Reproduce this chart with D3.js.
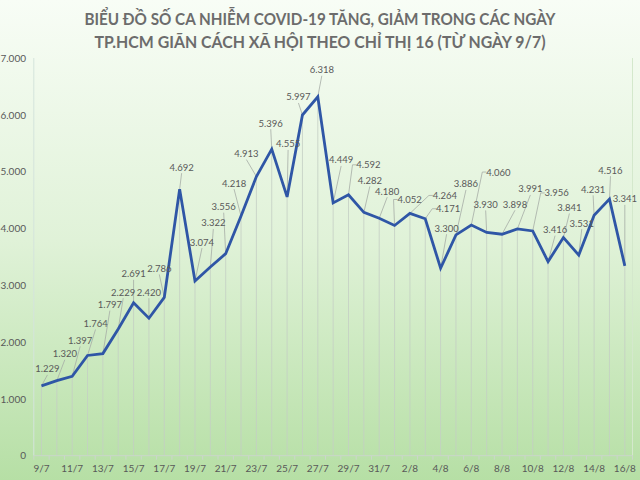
<!DOCTYPE html>
<html>
<head>
<meta charset="utf-8">
<script src="https://cdn.jsdelivr.net/npm/d3@7/dist/d3.min.js"></script>
<style>
  html, body { margin: 0; padding: 0; background: #fff; }
  svg { display: block; }
</style>
</head>
<body>
<svg id="chart" width="640" height="480"></svg>
<script>
// ---- Data ----
const dates = ["9/7","10/7","11/7","12/7","13/7","14/7","15/7","16/7","17/7","18/7","19/7","20/7","21/7","22/7","23/7","24/7","25/7","26/7","27/7","28/7","29/7","30/7","31/7","1/8","2/8","3/8","4/8","5/8","6/8","7/8","8/8","9/8","10/8","11/8","12/8","13/8","14/8","15/8","16/8"];
const cases = [1229,1320,1397,1764,1797,2229,2691,2420,2786,4692,3074,3322,3556,4218,4913,5396,4555,5997,6318,4449,4592,4282,4180,4052,4264,4171,3300,3886,4060,3930,3898,3991,3956,3416,3841,3531,4231,4516,3341];
const xTickLabels = ["9/7","11/7","13/7","15/7","17/7","19/7","21/7","23/7","25/7","27/7","29/7","31/7","2/8","4/8","6/8","8/8","10/8","12/8","14/8","16/8"];
const yTicks = [0,1000,2000,3000,4000,5000,6000,7000];
const titleLines = ["BIỂU ĐỒ SỐ CA NHIỄM COVID-19 TĂNG, GIẢM TRONG CÁC NGÀY","TP.HCM GIÃN CÁCH XÃ HỘI THEO CHỈ THỊ 16 (TỪ NGÀY 9/7)"];

// label placement offsets (relative to each point)
const labelDx = [6,8,8,8,7,5,0,0,-5,2,7,3,-2,-7,-10,-1,1,-4,4,8,20,6,8,15,35,23,6,10,27,-1,13,13,24,7,6,3,-1,1,0];
const labelDy = [-17,-27,-36,-32,-49,-37,-29,-26,-29,-22,-39,-44,-47,-33,-23,-26,-53,-18,-27,-43,-30,-32,-27,-26,-18,-10,-40,-51,-53,-28,-30,-40,-38,-32,-30,-32,-26,-29,-67];

// ---- Setup ----
const W = 640, H = 480;
const svg = d3.select("#chart");
const defs = svg.append("defs");
const grad = defs.append("linearGradient").attr("id","bg").attr("x1",0).attr("y1",0).attr("x2",0).attr("y2",1);
grad.append("stop").attr("offset","0%").attr("stop-color","#f8fdf6");
grad.append("stop").attr("offset","50%").attr("stop-color","#e0f2d8");
grad.append("stop").attr("offset","100%").attr("stop-color","#b6dfa5");
svg.append("rect").attr("width",W).attr("height",H).attr("fill","url(#bg)");

const vn = d3.formatLocale({decimal:",", thousands:".", grouping:[3], currency:["","đ"]});
const fmt = vn.format(",");

const plotL = 33.8, plotR = 632.5, plotT = 58, plotB = 455.7;
const x = d3.scaleBand().domain(dates).range([plotL, plotR]).padding(0);
const cx = d => x(d) + x.bandwidth()/2;
const y = d3.scaleLinear().domain([0,7000]).range([plotB, plotT]);

const FONT = "Lato, 'Open Sans', 'Liberation Sans', sans-serif";

// title
svg.append("g").selectAll("text").data(titleLines).join("text")
  .attr("x", 320).attr("y", (d,i) => 24.5 + i*23.5)
  .attr("text-anchor","middle")
  .attr("font-family", FONT).attr("font-weight","bold").attr("font-size", 17.5)
  .attr("fill","#6c6c6c")
  .attr("textLength", (d,i) => i === 0 ? 471 : 451)
  .attr("lengthAdjust","spacingAndGlyphs")
  .text(d => d);

// plot borders
svg.append("line").attr("x1", plotL).attr("x2", plotL).attr("y1", plotT).attr("y2", plotB)
  .attr("stroke","#d4e4dc").attr("stroke-width",1);
svg.append("line").attr("x1", plotR).attr("x2", plotR).attr("y1", plotT).attr("y2", plotB)
  .attr("stroke","#d4e8cc").attr("stroke-width",1);

// y axis labels
const yAxis = d3.axisLeft(y).tickValues(yTicks).tickFormat(fmt).tickSize(0).tickPadding(0);
const gy = svg.append("g").attr("transform", `translate(26,0)`).call(yAxis);
gy.select(".domain").remove();
gy.selectAll("text").attr("font-family", FONT).attr("font-size", 10).attr("fill","#595959");

// drop lines
const pts = dates.map((d,i) => ({d, v: cases[i], i}));
svg.append("g").selectAll("line").data(pts).join("line")
  .attr("x1", p => cx(p.d)).attr("x2", p => cx(p.d))
  .attr("y1", p => y(p.v)).attr("y2", plotB)
  .attr("stroke","#c4cec4").attr("stroke-width",0.8);

// x axis line & ticks
svg.append("line").attr("x1", plotL).attr("x2", plotR).attr("y1", plotB).attr("y2", plotB)
  .attr("stroke","#cbd6cb").attr("stroke-width",1);
const boundaries = dates.map(d => x(d)).concat([plotR]);
svg.append("g").selectAll("line").data(boundaries).join("line")
  .attr("x1", b => b).attr("x2", b => b).attr("y1", plotB).attr("y2", plotB+4)
  .attr("stroke","#cbd6cb").attr("stroke-width",1);

const xAxis = d3.axisBottom(x).tickValues(xTickLabels).tickSize(0).tickPadding(0);
const gx = svg.append("g").attr("transform", `translate(0,${plotB+9})`).call(xAxis);
gx.select(".domain").remove();
gx.selectAll("text").attr("font-family", FONT).attr("font-size", 10).attr("fill","#595959").attr("dy","0.71em");

// leader lines
const lbl = pts.map(p => {
  const px = cx(p.d), py = y(p.v);
  const lx = px + labelDx[p.i], ly = py + labelDy[p.i];
  return {p, px, py, lx, ly, text: fmt(p.v)};
});
const lg = svg.append("g");
lbl.forEach(l => {
  const halfW = 11;
  let path;
  if (l.lx - halfW > l.px + 2) {
    path = `M${l.px},${l.py} L${l.lx-halfW-5},${l.ly} L${l.lx-halfW-1},${l.ly}`;
  } else {
    path = `M${l.px},${l.py} L${l.lx},${l.ly+6}`;
  }
  lg.append("path").attr("d", path).attr("fill","none").attr("stroke","#a6aca6").attr("stroke-width",0.8);
});

// line
svg.append("path").datum(pts)
  .attr("d", d3.line().x(p => cx(p.d)).y(p => y(p.v)))
  .attr("fill","none").attr("stroke","#2f56a6").attr("stroke-width",2.8).attr("stroke-linejoin","miter");

// data labels
svg.append("g").selectAll("text").data(lbl).join("text")
  .attr("x", l => l.lx).attr("y", l => l.ly)
  .attr("text-anchor","middle").attr("dominant-baseline","central")
  .attr("font-family", FONT).attr("font-size", 9.5).attr("fill","#595959")
  .text(l => l.text);
</script>
</body>
</html>
